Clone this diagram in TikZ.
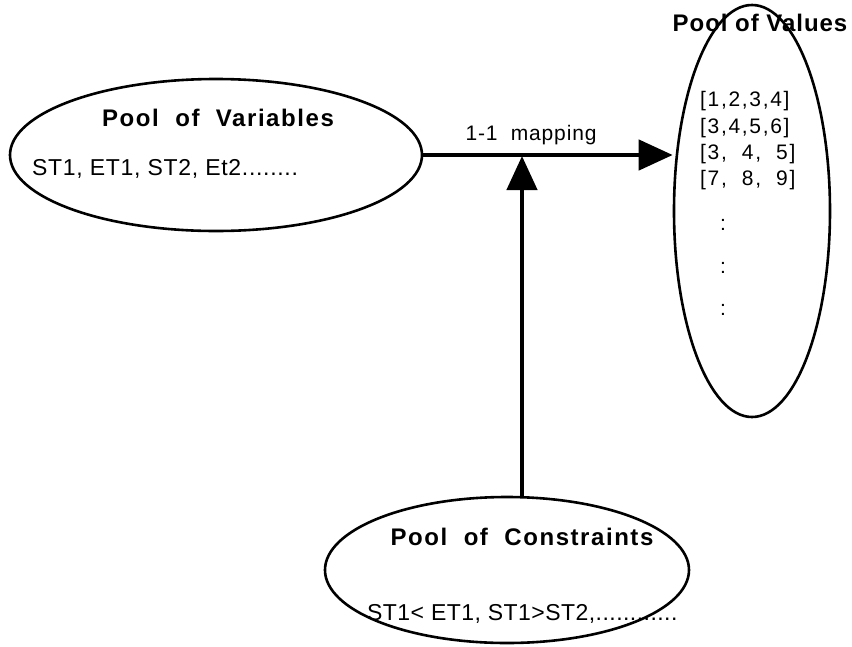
\documentclass[tikz,border=0pt]{standalone}
\usepackage{fontspec}
\setmainfont{Liberation Sans}
\newfontfamily\titlefont[LetterSpace=6.5]{Liberation Sans}
\newfontfamily\valtitlefont[LetterSpace=4]{Liberation Sans}
\newfontfamily\bodyfont[LetterSpace=3]{Liberation Sans}
\newfontfamily\conbodyfont[LetterSpace=2]{Liberation Sans}
\newfontfamily\numfont[LetterSpace=8]{Liberation Sans}
\newfontfamily\mapfont[LetterSpace=4]{Liberation Sans}
\usetikzlibrary{shapes.geometric,arrows.meta}
\begin{document}
\begin{tikzpicture}[x=1pt,y=-1pt,
  pool/.style={draw,line width=2.6pt,ellipse,inner sep=0pt},
  title/.style={font=\titlefont\fontsize{24}{28}\selectfont\bfseries,inner sep=0pt,anchor=base},
  body/.style={font=\bodyfont\fontsize{23}{28}\selectfont,inner sep=0pt,anchor=base west},
  nums/.style={font=\numfont\fontsize{21}{24}\selectfont,inner sep=0pt,anchor=base west},
  conn/.style={line width=4.5pt,-{Triangle[length=34pt,width=30pt]}}]
\useasboundingbox (0,0) rectangle (852,646);
% ellipses
\node[pool,minimum width=412pt,minimum height=152pt] (var) at (216,155) {};
\node[pool,minimum width=156pt,minimum height=412pt] (val) at (752,211) {};
\node[pool,minimum width=364pt,minimum height=146pt] (con) at (507,570) {};
% texts
\node[title] (tvar) at (218,126) {Pool\ \ of\ \ Variables};
\node[body] (bvar) at (32,175) {ST1, ET1, ST2, Et2........};
\node[title,font=\valtitlefont\fontsize{24}{28}\selectfont\bfseries] (tval) at (760,31) {Pool of Values};
\node[nums] (v1) at (700,106) {[1,2,3,4]};
\node[nums] (v2) at (700,133) {[3,4,5,6]};
\node[nums] (v3) at (700,159) {[3,\ \ 4,\ \ 5]};
\node[nums] (v4) at (700,185) {[7,\ \ 8,\ \ 9]};
\node[nums,anchor=center] (d1) at (723,225) {:};
\node[nums,anchor=center] (d2) at (723,268) {:};
\node[nums,anchor=center] (d3) at (723,310) {:};
\node[title] (tcon) at (522,545) {Pool\ \ of\ \ Constraints};
\node[body,font=\conbodyfont\fontsize{23}{28}\selectfont] (bcon) at (367,620) {ST1< ET1, ST1>ST2,............};
\node[font=\mapfont\fontsize{21}{24}\selectfont,inner sep=0pt,anchor=base] (map) at (531,140) {1-1\ \ mapping};
% connectors
\coordinate (m) at (522,156);
\draw[conn] (var.east) -- (var.east -| val.west);
\draw[conn] (con.north -| m) -- (m);
\end{tikzpicture}
\end{document}
